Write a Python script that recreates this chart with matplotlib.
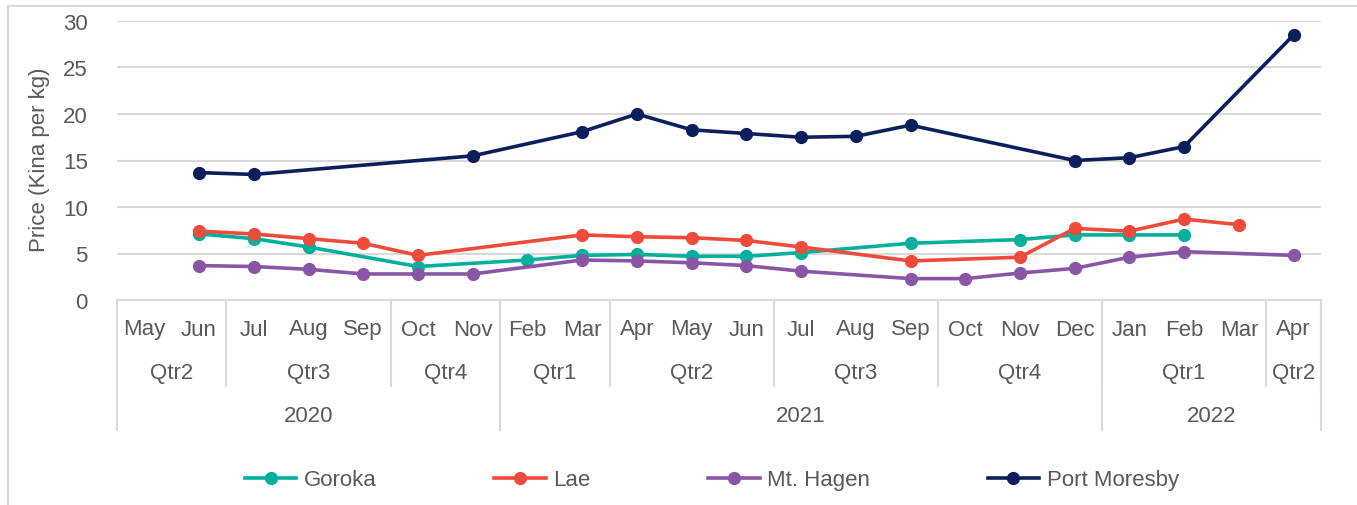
import matplotlib
matplotlib.use("Agg")
import matplotlib.pyplot as plt
import matplotlib.transforms as mtransforms
from matplotlib.lines import Line2D
import numpy as np

plt.rcParams['font.family'] = ['Liberation Sans', 'DejaVu Sans']

# ---- data ----
months = ['May', 'Jun', 'Jul', 'Aug', 'Sep', 'Oct', 'Nov', 'Feb', 'Mar', 'Apr', 'May',
          'Jun', 'Jul', 'Aug', 'Sep', 'Oct', 'Nov', 'Dec', 'Jan', 'Feb', 'Mar', 'Apr']
quarters = ['Qtr2', 'Qtr3', 'Qtr4', 'Qtr1', 'Qtr2', 'Qtr3', 'Qtr4', 'Qtr1', 'Qtr2']
quarter_sizes = [2, 3, 2, 2, 3, 3, 3, 3, 1]
years = ['2020', '2021', '2022']
year_sizes = [7, 11, 4]

goroka = [None, 7.1, 6.6, 5.7, None, 3.6, None, 4.3, 4.8, 4.9, 4.7,
          4.7, 5.1, None, 6.1, None, 6.5, 7.0, 7.0, 7.0, None, None]
lae = [None, 7.4, 7.1, 6.6, 6.1, 4.8, None, None, 7.0, 6.8, 6.7,
       6.4, 5.7, None, 4.2, None, 4.6, 7.7, 7.4, 8.7, 8.1, None]
mt_hagen = [None, 3.7, 3.6, 3.3, 2.8, 2.8, 2.8, None, 4.3, 4.2, 4.0,
            3.7, 3.1, None, 2.3, 2.3, 2.9, 3.4, 4.6, 5.2, None, 4.8]
port_moresby = [None, 13.7, 13.5, None, None, None, 15.5, None, 18.1, 20.0, 18.3,
                17.9, 17.5, 17.6, 18.8, None, None, 15.0, 15.3, 16.5, None, 28.5]

series = [('Goroka', goroka, '#00B09B'),
          ('Lae', lae, '#EF4B3B'),
          ('Mt. Hagen', mt_hagen, '#8B55A6'),
          ('Port Moresby', port_moresby, '#0A1F5C')]

W, H = 1357, 506
text_col = '#595959'
grid_col = '#D9D9D9'
fs = 16

fig = plt.figure(figsize=(W / 100, H / 100), dpi=100)

def fy(py):
    return (H - py) / H

ax = fig.add_axes([117 / W, fy(301), (1321 - 117) / W, (301 - 22) / H])

for name, vals, col in series:
    xs = [i for i, v in enumerate(vals) if v is not None]
    ys = [v for v in vals if v is not None]
    ax.plot(xs, ys, '-o', color=col, lw=2.6, ms=8.5, label=name, clip_on=False, zorder=3)

ax.set_xlim(-0.5, len(months) - 0.5)
ax.set_ylim(0, 30)
ax.set_yticks([0, 5, 10, 15, 20, 25, 30])
ax.yaxis.grid(True, color=grid_col, lw=1.5)
ax.set_axisbelow(True)
for s in ['top', 'right', 'left']:
    ax.spines[s].set_visible(False)
ax.spines['bottom'].set_color(grid_col)
ax.spines['bottom'].set_linewidth(1.5)
ax.tick_params(axis='y', length=0, labelsize=fs, labelcolor=text_col, pad=21)
ax.set_xticks([])

# multi-level category axis
trans = mtransforms.blended_transform_factory(ax.transData, fig.transFigure)
for i, m in enumerate(months):
    ax.text(i, fy(330), m, transform=trans, ha='center', va='center', fontsize=fs, color=text_col)

pos = 0
for q, n in zip(quarters, quarter_sizes):
    ax.text(pos + (n - 1) / 2, fy(373), q, transform=trans, ha='center', va='center',
            fontsize=fs, color=text_col)
    pos += n
    ax.add_line(Line2D([pos - 0.5, pos - 0.5], [fy(301), fy(387)], transform=trans,
                       color=grid_col, lw=1.5, clip_on=False))

pos = 0
ax.add_line(Line2D([-0.5, -0.5], [fy(301), fy(431)], transform=trans,
                   color=grid_col, lw=1.5, clip_on=False))
for y, n in zip(years, year_sizes):
    ax.text(pos + (n - 1) / 2, fy(417), y, transform=trans, ha='center', va='center',
            fontsize=fs, color=text_col)
    pos += n
    ax.add_line(Line2D([pos - 0.5, pos - 0.5], [fy(301), fy(431)], transform=trans,
                       color=grid_col, lw=1.5, clip_on=False))

fig.text(40 / W, fy(160), 'Price (Kina per kg)', rotation=90, ha='center', va='center',
         fontsize=fs, color=text_col)

leg = fig.legend(loc='center', bbox_to_anchor=(712 / W, fy(481)), ncol=4, frameon=False,
                 fontsize=fs, handlelength=2.3, columnspacing=5.3, handletextpad=0.35)
for t in leg.get_texts():
    t.set_color(text_col)

# chart border (left and top edges visible)
fig.add_artist(Line2D([8 / W, 8 / W], [0, fy(7)], transform=fig.transFigure, color=grid_col, lw=1.5))
fig.add_artist(Line2D([8 / W, 1], [fy(7), fy(7)], transform=fig.transFigure, color=grid_col, lw=1.5))

fig.savefig('out.png', dpi=100)
